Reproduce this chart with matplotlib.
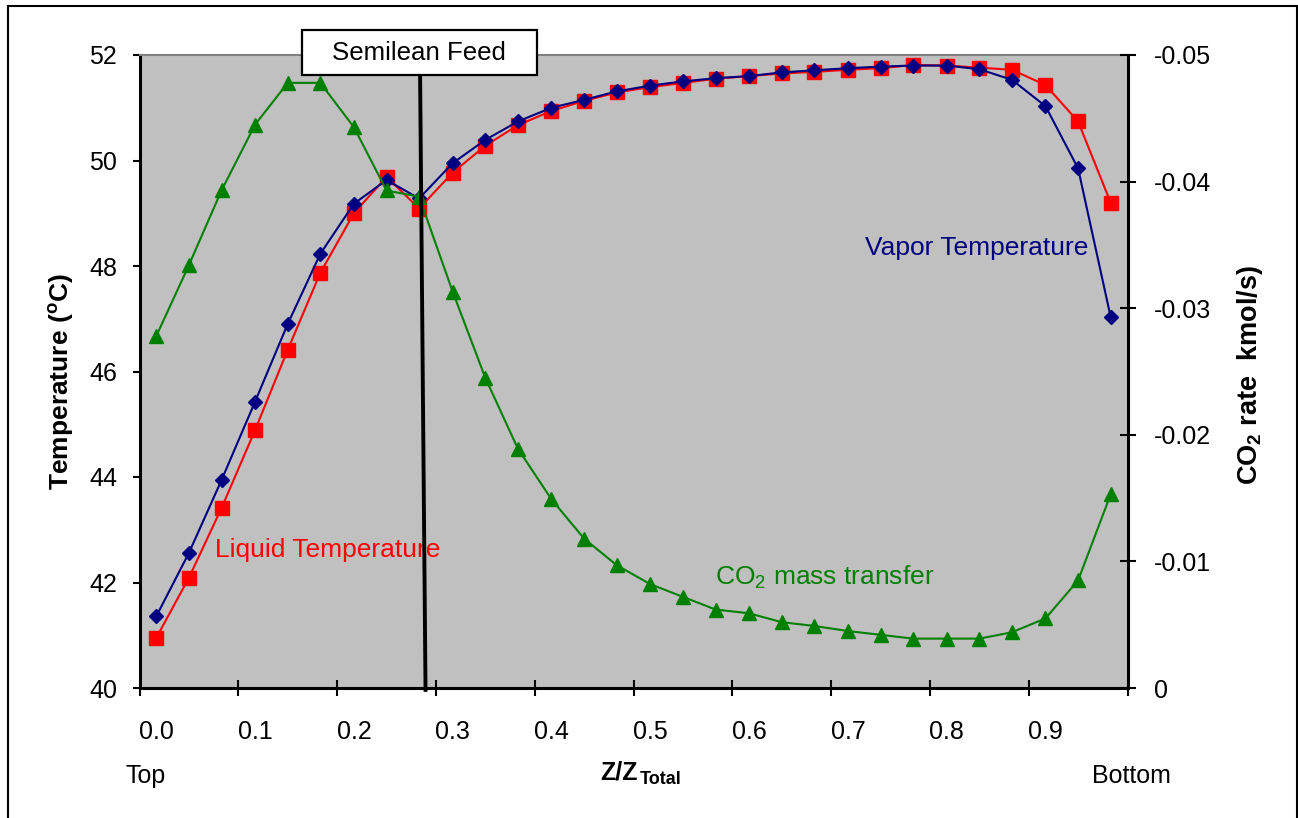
import matplotlib
matplotlib.use("Agg")
import matplotlib.pyplot as plt
from matplotlib.lines import Line2D
from matplotlib.patches import Rectangle

plt.rcParams['font.family'] = ['Liberation Sans', 'DejaVu Sans']
plt.rcParams['mathtext.fontset'] = 'custom'
plt.rcParams['mathtext.rm'] = 'Liberation Sans'
plt.rcParams['mathtext.it'] = 'Liberation Sans:italic'
plt.rcParams['mathtext.bf'] = 'Liberation Sans:bold'

# ---- data ----
z_pos = [0.017, 0.050, 0.083, 0.117, 0.150, 0.183, 0.217, 0.250, 0.283, 0.317,
         0.350, 0.383, 0.417, 0.450, 0.483, 0.517, 0.550, 0.583, 0.617, 0.650,
         0.683, 0.717, 0.750, 0.783, 0.817, 0.850, 0.883, 0.917, 0.950, 0.983]
vapor_T = [41.36, 42.56, 43.94, 45.43, 46.90, 48.23, 49.18, 49.63, 49.28, 49.95,
           50.39, 50.74, 51.00, 51.15, 51.31, 51.42, 51.50, 51.56, 51.60, 51.67,
           51.71, 51.75, 51.78, 51.80, 51.80, 51.73, 51.53, 51.03, 49.85, 47.03]
liquid_T = [40.95, 42.09, 43.41, 44.89, 46.41, 47.87, 49.00, 49.69, 49.09, 49.77,
            50.28, 50.67, 50.94, 51.13, 51.29, 51.39, 51.47, 51.55, 51.60, 51.65,
            51.68, 51.72, 51.75, 51.81, 51.80, 51.76, 51.72, 51.43, 50.74, 49.20]
co2_rate = [-0.0278, -0.0334, -0.0393, -0.0445, -0.0478, -0.0478, -0.0443, -0.0393, -0.0388, -0.0313,
            -0.0245, -0.0189, -0.0149, -0.0118, -0.0097, -0.0082, -0.0072, -0.0062, -0.0059, -0.0052,
            -0.0049, -0.0045, -0.0042, -0.0039, -0.0039, -0.0039, -0.0044, -0.0055, -0.0085, -0.0153]

x_major_ticks = [0.0, 0.1, 0.2, 0.3, 0.4, 0.5, 0.6, 0.7, 0.8, 0.9, 1.0]
x_label_pos = [0.017, 0.117, 0.217, 0.317, 0.417, 0.517, 0.617, 0.717, 0.817, 0.917]
x_labels = ["0.0", "0.1", "0.2", "0.3", "0.4", "0.5", "0.6", "0.7", "0.8", "0.9"]
temp_ticks = [40, 42, 44, 46, 48, 50, 52]
co2_ticks = [0, -0.01, -0.02, -0.03, -0.04, -0.05]
co2_labels = ["0", "-0.01", "-0.02", "-0.03", "-0.04", "-0.05"]

W, H = 1298, 818
fig = plt.figure(figsize=(W / 100, H / 100), dpi=100)
L, R, T, B = 139.5, 1127.5, 55, 688
ax = fig.add_axes([L / W, 1 - B / H, (R - L) / W, (B - T) / H])
ax.set_facecolor('#C0C0C0')
ax2 = ax.twinx()

FS = 18
FA = 19
navy, red, green = '#000080', '#FF0000', '#008000'

ax.plot(z_pos, liquid_T, color=red, lw=1.5, marker='s', ms=10.5, mec=red, mfc=red, zorder=3)
ax.plot(z_pos, vapor_T, color=navy, lw=1.5, marker='D', ms=7.5, mec=navy, mfc=navy, zorder=4)
ax2.plot(z_pos, co2_rate, color=green, lw=1.5, marker='^', ms=10.5, mec=green, mfc=green, zorder=3)

ax.set_xlim(0, 1)
ax.set_ylim(40, 52)
ax2.set_ylim(0, -0.05)

# x ticks
ax.set_xticks(x_major_ticks)
ax.set_xticklabels([])
ax.tick_params(axis='x', which='major', direction='inout', length=11.5, width=1.5, color='black')
ax.set_xticks(x_label_pos, minor=True)
ax.set_xticklabels(x_labels, minor=True, fontsize=FS)
ax.tick_params(axis='x', which='minor', length=0, pad=23)

# left y
ax.set_yticks(temp_ticks)
ax.set_yticklabels([str(t) for t in temp_ticks], fontsize=FS)
ax.tick_params(axis='y', direction='out', length=5, width=1.5, pad=11)

# right y
ax2.set_yticks(co2_ticks)
ax2.set_yticklabels(co2_labels, fontsize=FS)
ax2.tick_params(axis='y', direction='inout', length=11.5, width=1.5, pad=13)

for a in (ax, ax2):
    for s in a.spines.values():
        s.set_visible(False)
ax.spines['left'].set_visible(True)
ax.spines['left'].set_linewidth(2.2)
ax.spines['bottom'].set_visible(True)
ax.spines['bottom'].set_linewidth(2.2)
ax.spines['top'].set_visible(True)
ax.spines['top'].set_color('#808080')
ax.spines['top'].set_linewidth(1.5)
ax2.spines['right'].set_visible(True)
ax2.spines['right'].set_linewidth(2.2)

# feed line
feed = Line2D([0.284, 0.2895], [0.968, -0.003], transform=ax.transAxes, color='black',
              lw=2.8, clip_on=False, zorder=10)
ax2.add_line(feed)

# annotations
ax.text(0.0764, 42.62, "Liquid Temperature", color=red, fontsize=FA, va='center', ha='left', zorder=6)
ax.text(0.7343, 48.34, "Vapor Temperature", color=navy, fontsize=FA, va='center', ha='left', zorder=6)
ax.text(0.5825, 42.10, r"CO$_2$ mass transfer", color=green, fontsize=FA, va='center', ha='left', zorder=6)

# Semilean Feed box
fig.add_artist(Rectangle((302 / W, 1 - 75 / H), (537 - 302) / W, 45 / H, transform=fig.transFigure,
                         fc='white', ec='black', lw=1.6, zorder=20))
fig.text(419 / W, 1 - 53 / H, "Semilean Feed", fontsize=18.6, ha='center', va='center', zorder=21)

fig.text(146 / W, 1 - 776 / H, "Top", fontsize=FS, ha='center', va='center')
fig.text(1131 / W, 1 - 776 / H, "Bottom", fontsize=FS, ha='center', va='center')
fig.text(638 / W, 1 - 780 / H, "Z/Z", fontsize=FS, fontweight='bold', ha='right', va='baseline')
fig.text(640 / W, 1 - 784 / H, "Total", fontsize=13, fontweight='bold', ha='left', va='baseline')

fig.text(62 / W, 1 - 382 / H, r"Temperature ($\mathbf{^o}$C)", fontsize=19, fontweight='bold',
         rotation=90, ha='center', va='center')
fig.text(1250 / W, 1 - 375 / H, r"CO$_\mathbf{2}$ rate  kmol/s)", fontsize=19.5, fontweight='bold',
         rotation=90, ha='center', va='center')

# outer frame
fig.add_artist(Rectangle((8 / W, -0.02), (1297 - 8) / W, 1.02 - 6 / H, transform=fig.transFigure,
                         fill=False, ec='black', lw=1.5, zorder=30))

fig.savefig("out.png", dpi=100)
